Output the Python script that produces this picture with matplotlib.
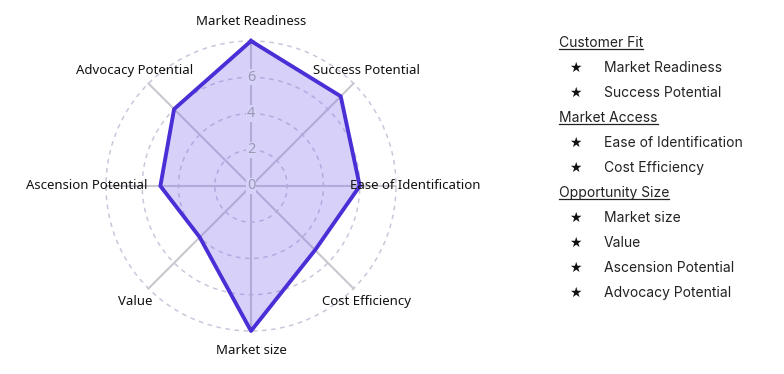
import numpy as np
import matplotlib
matplotlib.use("Agg")
import matplotlib.pyplot as plt
from matplotlib.lines import Line2D

# radar data (clockwise from top)
categories = ["Market Readiness", "Success Potential", "Ease of Identification",
              "Cost Efficiency", "Market size", "Value",
              "Ascension Potential", "Advocacy Potential"]
values = [8, 7, 6, 5, 8, 4, 5, 6]
r_ticks = [0, 2, 4, 6, 8]

# legend groups
group_names = ["Customer Fit", "Market Access", "Opportunity Size"]
group_items = [["Market Readiness", "Success Potential"],
               ["Ease of Identification", "Cost Efficiency"],
               ["Market size", "Value", "Ascension Potential", "Advocacy Potential"]]

line_color = "#4a2fd6"
fill_color = "#7b68ee"
grid_color = "#cdc6da"
spoke_color = "#c9c8d0"
tick_color = "#9c98b2"

fig = plt.figure(figsize=(7.84, 3.74), dpi=100)
ax = fig.add_axes([0.1352, 0.115, 0.3699, 0.7754], projection="polar")
ax.set_theta_zero_location("N")
ax.set_theta_direction(-1)

n = len(categories)
angles = np.linspace(0, 2 * np.pi, n, endpoint=False)
ang_closed = np.append(angles, angles[0])
val_closed = np.append(values, values[0])

ax.set_ylim(0, r_ticks[-1])
ax.grid(False)
ax.spines["polar"].set_visible(False)
ax.set_xticks([])
ax.set_yticks([])

# dashed rings
circ = np.linspace(0, 2 * np.pi, 300)
for r in r_ticks[1:]:
    ax.plot(circ, np.full_like(circ, r), color=grid_color, lw=1.1,
            dashes=(3, 3), zorder=1, clip_on=False)
# spokes
for a in angles:
    ax.plot([a, a], [0, r_ticks[-1]], color=spoke_color, lw=1.5, zorder=1,
            clip_on=False)

ax.fill(ang_closed, val_closed, color=fill_color, alpha=0.3, lw=0, zorder=2)
ax.plot(ang_closed, val_closed, color=line_color, lw=2.8, zorder=3,
        clip_on=False)

# radial tick labels along the top spoke
for r in r_ticks[:-1]:
    ax.text(0, r, str(r), color=tick_color, fontsize=10.5, ha="center",
            va="center", family=["Noto Sans", "DejaVu Sans"], zorder=4,
            bbox=dict(boxstyle="square,pad=0.05", fc="#d7d2fa", ec="none"))

# category labels
for a, lab in zip(angles, categories):
    ax.text(a, 9.05, lab, ha="center", va="center", fontsize=9.5,
            family=["Noto Sans", "DejaVu Sans"], color="#111111",
            clip_on=False, zorder=5)

# legend on the right
y = 43
lfam = ["Inter", "DejaVu Sans"]
heads = []
for g, items in zip(group_names, group_items):
    t = fig.text(559 / 784, 1 - y / 374, g, fontsize=10, family=lfam,
                 color="#222222", ha="left", va="center")
    heads.append(t)
    y += 25
    for it in items:
        fig.text(575 / 784, 1 - y / 374, "\u2605", fontsize=10,
                 family=["DejaVu Sans"], color="#111111", ha="center", va="center")
        fig.text(604 / 784, 1 - y / 374, it, fontsize=10, family=lfam,
                 color="#222222", ha="left", va="center")
        y += 25

# underline the group headers
fig.canvas.draw()
inv = fig.transFigure.inverted()
for t in heads:
    bb = t.get_window_extent().transformed(inv)
    fig.add_artist(Line2D([bb.x0, bb.x1], [bb.y0 + 0.002, bb.y0 + 0.002],
                          transform=fig.transFigure, color="#222222", lw=0.9))

fig.savefig("out.png", dpi=100)
